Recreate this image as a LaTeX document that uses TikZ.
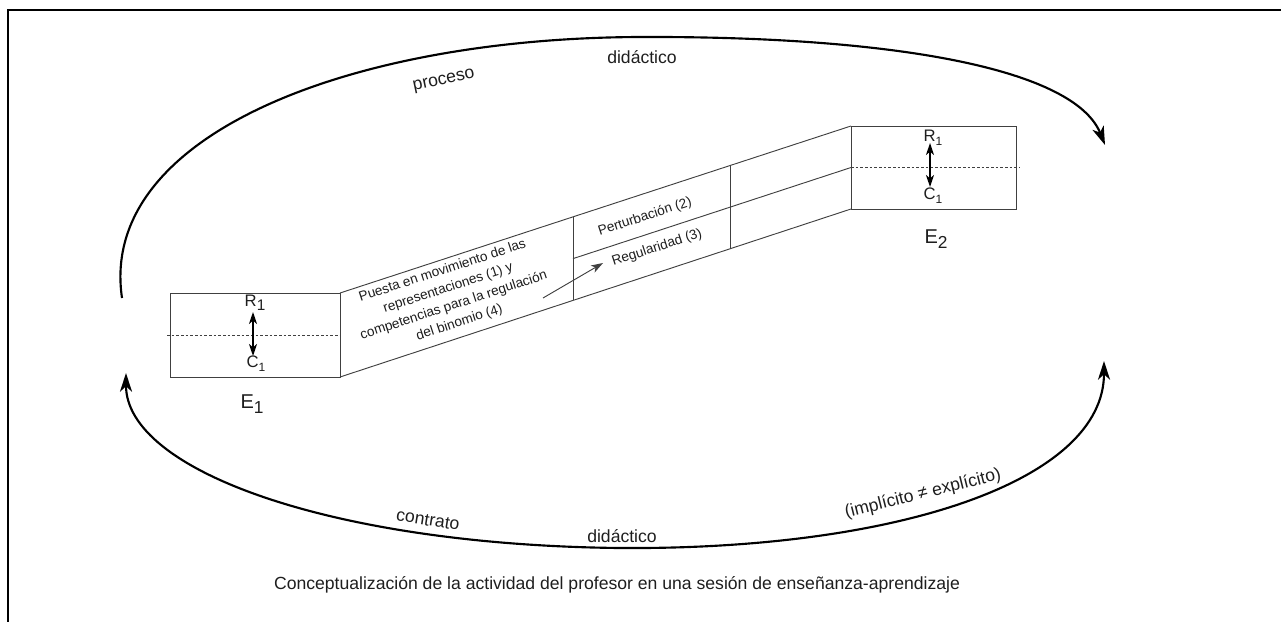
\documentclass[tikz,border=0pt]{standalone}
\usepackage{fontspec}
\setmainfont{Liberation Sans}
\usetikzlibrary{arrows.meta,calc}
\definecolor{boxgray}{HTML}{404040}
\definecolor{textgray}{HTML}{1E1E1E}
\newcommand\bigsub[2]{\raisebox{-0.45ex}{\fontsize{#1}{#1}\selectfont #2}}
\tikzset{
  frameline/.style={line width=1.5pt, black},
  box/.style={draw=boxgray, line width=0.7pt, inner sep=0pt, outer sep=0pt},
  band/.style={draw=boxgray, line width=0.7pt},
  dashline/.style={draw=boxgray, line width=0.6pt, dash pattern=on 2pt off 1.5pt},
  arcline/.style={line width=1.6pt, black},
  bighead/.tip={Stealth[length=14pt,width=9pt,inset=4pt]},
  smallhead/.tip={Stealth[length=9pt,width=6pt,inset=2.5pt]},
  lbl/.style={font=\fontsize{13.2}{15}\selectfont, text=textgray, inner sep=0pt},
  inner/.style={font=\fontsize{10.2}{13.6}\selectfont, text=textgray, inner sep=0pt},
  rc/.style={font=\fontsize{12.5}{13}\selectfont, text=textgray, inner sep=0pt},
  elbl/.style={font=\fontsize{15}{16}\selectfont, text=textgray, inner sep=0pt},
}
\begin{document}
\begin{tikzpicture}[x=0.75pt,y=-0.75pt]
\useasboundingbox (0,0) rectangle (1281,622);
% frame
\coordinate (fTL) at (8,10);
\coordinate (fTR) at (1281,10);
\coordinate (fBL) at (8,622);
\draw[frameline] (fTR) -- (fTL) -- (fBL);

% boxes
\node[box, minimum width=127.5pt, minimum height=63pt] (E1) at (255,335) {};
\node[box, minimum width=123.75pt, minimum height=62.25pt] (E2) at (933.5,167.5) {};
\draw[dashline] ([xshift=-2.25pt]E1.west) -- (E1.east);
\draw[dashline] (E2.west) -- ([xshift=3pt]E2.east);

% band
\draw[band] (E1.north east) -- (E2.north west);
\draw[band] (E1.south east) -- (E2.south west);
\coordinate (v1t) at ($(E1.north east)!0.456!(E2.north west)$);
\coordinate (v1b) at ($(E1.south east)!0.456!(E2.south west)$);
\coordinate (v2t) at ($(E1.north east)!0.765!(E2.north west)$);
\coordinate (v2b) at ($(E1.south east)!0.765!(E2.south west)$);
\coordinate (m1) at ($(E1.east)!0.456!(E2.west)$);
\draw[band] (v1t) -- (v1b);
\draw[band] (v2t) -- (v2b);
\draw[band] (m1) -- (E2.west);

% band texts
\node[inner, rotate=18.1, align=center] (t1) at (451,297) {Puesta en movimiento de las\\representaciones (1) y\\competencias para la regulación\\del binomio (4)};
\node[inner, rotate=18.1] (t2) at (645,217) {Perturbación (2)};
\node[inner, rotate=18.1] (t3) at (657,248) {Regularidad (3)};
\coordinate (a0) at (543,298);
\coordinate (a1) at (603,263);
\draw[band, -smallhead] (a0) -- (a1);

% R / C in E1
\node[rc] (R1a) at (255,303) {R\bigsub{11.5}{1}};
\node[rc] (C1a) at (256,364) {C\bigsub{9}{1}};
\coordinate (ra0) at (253,312);
\coordinate (ra1) at (253,356);
\draw[line width=1.2pt, black, smallhead-smallhead] (ra0) -- (ra1);
\node[elbl] (e1) at (252,404) {E\bigsub{13}{1}};

% R / C in E2
\node[rc] (R1b) at (933,138) {R\bigsub{9}{1}};
\node[rc] (C1b) at (933,196) {C\bigsub{9}{1}};
\coordinate (rb0) at (930,143);
\coordinate (rb1) at (930,187);
\draw[line width=1.2pt, black, smallhead-smallhead] (rb0) -- (rb1);
\node[elbl] (e2) at (936,239) {E\bigsub{13}{2}};

% top arc
\coordinate (p0) at (122,298);
\coordinate (p1) at (640,37);
\coordinate (p2) at (1105,145);
\draw[arcline, -bighead] (p0) .. controls (98,135) and (350,38) .. (p1) .. controls (900,36) and (1075,70) .. (p2);
\node[lbl, rotate=12] (lp) at (444,81) {proceso};
\node[lbl] (ld1) at (642,57) {didáctico};

% bottom arc
\coordinate (q0) at (126,373);
\coordinate (q1) at (620,548);
\coordinate (q2) at (1104,361);
\draw[arcline, bighead-bighead] (q0) .. controls (126,470) and (330,545) .. (q1) .. controls (900,550) and (1104,480) .. (q2);
\node[lbl, rotate=-9] (lc) at (428,520) {contrato};
\node[lbl] (ld2) at (622,536) {didáctico};
\node[lbl, rotate=14] (li) at (923,494) {(implícito ≠ explícito)};

% caption
\node[lbl] (cap) at (617,585) {Conceptualización de la actividad del profesor en una sesión de enseñanza-aprendizaje};
\end{tikzpicture}
\end{document}
